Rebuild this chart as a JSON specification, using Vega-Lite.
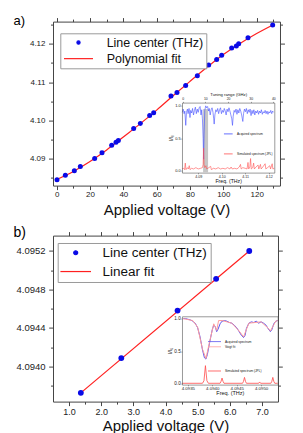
{
  "$schema": "https://vega.github.io/schema/vega-lite/v6.json",
  "background": "white",
  "padding": {"left": 12, "top": 13.6, "right": 5, "bottom": 0},
  "spacing": 6,
  "resolve": {"scale": {"shape": "independent", "color": "independent"}},
  "config": {
    "font": "Liberation Sans",
    "view": {"stroke": "#444", "strokeWidth": 1},
    "axis": {"grid": false, "labelColor": "#222", "titleColor": "#111", "tickColor": "#444", "domainColor": "#555", "labelFlush": false, "labelOverlap": false, "titleFontWeight": "normal"},
    "legend": {"labelColor": "#111"}
  },
  "datasets": {
    "ptsA": [
      {"V": 0.2, "f": 4.0845}, {"V": 5.2, "f": 4.0857}, {"V": 10.6, "f": 4.0869}, {"V": 14.2, "f": 4.0880},
      {"V": 22.8, "f": 4.0901}, {"V": 27.2, "f": 4.0916}, {"V": 33.0, "f": 4.0935}, {"V": 35.6, "f": 4.0943},
      {"V": 37.0, "f": 4.0948}, {"V": 46.2, "f": 4.0979}, {"V": 50.2, "f": 4.0992}, {"V": 55.8, "f": 4.1013},
      {"V": 58.2, "f": 4.1020}, {"V": 68.6, "f": 4.1064}, {"V": 72.2, "f": 4.1073}, {"V": 77.4, "f": 4.1091},
      {"V": 84.4, "f": 4.1117}, {"V": 91.2, "f": 4.1145}, {"V": 96.0, "f": 4.1159}, {"V": 99.0, "f": 4.1170},
      {"V": 105.0, "f": 4.1189}, {"V": 107.8, "f": 4.1194}, {"V": 109.2, "f": 4.1200}, {"V": 114.8, "f": 4.1216},
      {"V": 129.6, "f": 4.1249}
    ],
    "fitA": [
      {"V": 0, "f": 4.0846}, {"V": 10, "f": 4.0867}, {"V": 20, "f": 4.0893}, {"V": 30, "f": 4.0923},
      {"V": 40, "f": 4.0957}, {"V": 50, "f": 4.0991}, {"V": 60, "f": 4.1027}, {"V": 70, "f": 4.1065},
      {"V": 80, "f": 4.1102}, {"V": 90, "f": 4.1138}, {"V": 100, "f": 4.1172}, {"V": 110, "f": 4.1201},
      {"V": 120, "f": 4.1227}, {"V": 130, "f": 4.1250}
    ],
    "ptsB": [
      {"V": 1.366, "f": 4.093726}, {"V": 2.625, "f": 4.094087}, {"V": 4.375, "f": 4.094581},
      {"V": 5.575, "f": 4.094911}, {"V": 6.606, "f": 4.095200}
    ],
    "fitB": [
      {"V": 1.366, "f": 4.093726}, {"V": 6.606, "f": 4.095200}
    ],
    "bandA": [{"g0": 9.0, "g1": 11.2, "b0": -0.02, "b1": 0.95}],
    "acqA": [
      {"t": 4.0832, "i": 0.90}, {"t": 4.0836, "i": 0.95}, {"t": 4.0840, "i": 0.88}, {"t": 4.0843, "i": 0.92},
      {"t": 4.0847, "i": 0.70}, {"t": 4.0850, "i": 0.90}, {"t": 4.0854, "i": 0.95}, {"t": 4.0857, "i": 0.88},
      {"t": 4.0861, "i": 0.96}, {"t": 4.0865, "i": 0.82}, {"t": 4.0868, "i": 0.93}, {"t": 4.0872, "i": 0.89},
      {"t": 4.0876, "i": 0.96}, {"t": 4.0880, "i": 0.86}, {"t": 4.0884, "i": 0.93}, {"t": 4.0888, "i": 0.98},
      {"t": 4.0892, "i": 0.88}, {"t": 4.0896, "i": 0.95}, {"t": 4.0900, "i": 0.90}, {"t": 4.0904, "i": 0.97},
      {"t": 4.0908, "i": 0.99}, {"t": 4.0912, "i": 0.86}, {"t": 4.0915, "i": 0.94}, {"t": 4.0918, "i": 0.80},
      {"t": 4.0921, "i": 0.50}, {"t": 4.0923, "i": 0.18}, {"t": 4.0925, "i": 0.55}, {"t": 4.0928, "i": 0.93},
      {"t": 4.0932, "i": 1.00}, {"t": 4.0936, "i": 0.97}, {"t": 4.0940, "i": 0.99}, {"t": 4.0944, "i": 0.92},
      {"t": 4.0947, "i": 0.96}, {"t": 4.0951, "i": 0.86}, {"t": 4.0955, "i": 0.94}, {"t": 4.0959, "i": 0.97},
      {"t": 4.0963, "i": 0.90}, {"t": 4.0966, "i": 0.80}, {"t": 4.0968, "i": 0.72}, {"t": 4.0971, "i": 0.86},
      {"t": 4.0975, "i": 0.94}, {"t": 4.0979, "i": 0.91}, {"t": 4.0983, "i": 0.96}, {"t": 4.0987, "i": 0.88},
      {"t": 4.0991, "i": 0.94}, {"t": 4.0995, "i": 0.97}, {"t": 4.0999, "i": 0.88}, {"t": 4.1003, "i": 0.93},
      {"t": 4.1007, "i": 0.90}, {"t": 4.1011, "i": 0.96}, {"t": 4.1015, "i": 0.92}, {"t": 4.1019, "i": 0.86},
      {"t": 4.1023, "i": 0.95}, {"t": 4.1027, "i": 0.91}, {"t": 4.1031, "i": 0.97}, {"t": 4.1035, "i": 0.92},
      {"t": 4.1039, "i": 0.86}, {"t": 4.1043, "i": 0.80}, {"t": 4.1046, "i": 0.70}, {"t": 4.1049, "i": 0.84},
      {"t": 4.1053, "i": 0.93}, {"t": 4.1057, "i": 0.90}, {"t": 4.1061, "i": 0.95}, {"t": 4.1065, "i": 0.87},
      {"t": 4.1069, "i": 0.94}, {"t": 4.1073, "i": 0.89}, {"t": 4.1077, "i": 0.96}, {"t": 4.1081, "i": 0.92},
      {"t": 4.1085, "i": 0.86}, {"t": 4.1088, "i": 0.80}, {"t": 4.1090, "i": 0.76}, {"t": 4.1093, "i": 0.88},
      {"t": 4.1097, "i": 0.95}, {"t": 4.1101, "i": 0.91}, {"t": 4.1105, "i": 0.96}, {"t": 4.1109, "i": 0.88},
      {"t": 4.1113, "i": 0.94}, {"t": 4.1117, "i": 0.90}, {"t": 4.1121, "i": 0.95}, {"t": 4.1125, "i": 0.85},
      {"t": 4.1129, "i": 0.93}, {"t": 4.1133, "i": 0.88}, {"t": 4.1137, "i": 0.94}, {"t": 4.1141, "i": 0.86},
      {"t": 4.1145, "i": 0.92}, {"t": 4.1149, "i": 0.89}, {"t": 4.1153, "i": 0.93}, {"t": 4.1157, "i": 0.87},
      {"t": 4.1161, "i": 0.92}, {"t": 4.1165, "i": 0.89}, {"t": 4.1169, "i": 0.94}, {"t": 4.1173, "i": 0.87},
      {"t": 4.1177, "i": 0.91}, {"t": 4.1181, "i": 0.89}, {"t": 4.1185, "i": 0.93}, {"t": 4.1189, "i": 0.88},
      {"t": 4.1193, "i": 0.92}, {"t": 4.1197, "i": 0.87}, {"t": 4.1201, "i": 0.91}, {"t": 4.1205, "i": 0.89},
      {"t": 4.1209, "i": 0.93}, {"t": 4.1213, "i": 0.88}, {"t": 4.1217, "i": 0.92}, {"t": 4.1221, "i": 0.90}
    ],
    "simA": [
      {"t": 4.0831, "i": 0.03}, {"t": 4.0838, "i": 0.04}, {"t": 4.0842, "i": 0.02}, {"t": 4.0845, "i": 0.12},
      {"t": 4.0848, "i": 0.02}, {"t": 4.0854, "i": 0.05}, {"t": 4.0858, "i": 0.03}, {"t": 4.0862, "i": 0.08},
      {"t": 4.0865, "i": 0.02}, {"t": 4.0872, "i": 0.04}, {"t": 4.0880, "i": 0.03}, {"t": 4.0890, "i": 0.05},
      {"t": 4.0900, "i": 0.03}, {"t": 4.0910, "i": 0.04}, {"t": 4.0918, "i": 0.05}, {"t": 4.0921, "i": 0.10},
      {"t": 4.0923, "i": 0.35}, {"t": 4.0925, "i": 0.10}, {"t": 4.0928, "i": 0.05}, {"t": 4.0933, "i": 0.08},
      {"t": 4.0936, "i": 0.03}, {"t": 4.0945, "i": 0.05}, {"t": 4.0953, "i": 0.07}, {"t": 4.0956, "i": 0.02},
      {"t": 4.0965, "i": 0.04}, {"t": 4.0975, "i": 0.03}, {"t": 4.0985, "i": 0.05}, {"t": 4.0995, "i": 0.03},
      {"t": 4.1005, "i": 0.04}, {"t": 4.1015, "i": 0.03}, {"t": 4.1025, "i": 0.05}, {"t": 4.1035, "i": 0.03},
      {"t": 4.1040, "i": 0.06}, {"t": 4.1045, "i": 0.03}, {"t": 4.1055, "i": 0.04}, {"t": 4.1065, "i": 0.03},
      {"t": 4.1075, "i": 0.06}, {"t": 4.1080, "i": 0.10}, {"t": 4.1083, "i": 0.03}, {"t": 4.1090, "i": 0.05},
      {"t": 4.1100, "i": 0.04}, {"t": 4.1108, "i": 0.03}, {"t": 4.1112, "i": 0.13}, {"t": 4.1115, "i": 0.03},
      {"t": 4.1120, "i": 0.06}, {"t": 4.1123, "i": 0.19}, {"t": 4.1126, "i": 0.03}, {"t": 4.1132, "i": 0.05},
      {"t": 4.1136, "i": 0.12}, {"t": 4.1139, "i": 0.03}, {"t": 4.1146, "i": 0.06}, {"t": 4.1155, "i": 0.09},
      {"t": 4.1158, "i": 0.03}, {"t": 4.1165, "i": 0.10}, {"t": 4.1168, "i": 0.03}, {"t": 4.1175, "i": 0.06},
      {"t": 4.1185, "i": 0.11}, {"t": 4.1188, "i": 0.03}, {"t": 4.1195, "i": 0.05}, {"t": 4.1205, "i": 0.08},
      {"t": 4.1208, "i": 0.03}, {"t": 4.1215, "i": 0.11}, {"t": 4.1218, "i": 0.03}, {"t": 4.1224, "i": 0.04}
    ],
    "acqB": [
      {"t": 4.09340, "i": 1.00, "s": "Acquired spectrum"}, {"t": 4.09345, "i": 1.00, "s": "Acquired spectrum"},
      {"t": 4.09350, "i": 0.99, "s": "Acquired spectrum"}, {"t": 4.09355, "i": 0.98, "s": "Acquired spectrum"},
      {"t": 4.09360, "i": 0.96, "s": "Acquired spectrum"}, {"t": 4.09365, "i": 0.93, "s": "Acquired spectrum"},
      {"t": 4.09370, "i": 0.86, "s": "Acquired spectrum"}, {"t": 4.09375, "i": 0.72, "s": "Acquired spectrum"},
      {"t": 4.09380, "i": 0.52, "s": "Acquired spectrum"}, {"t": 4.09384, "i": 0.40, "s": "Acquired spectrum"},
      {"t": 4.09387, "i": 0.38, "s": "Acquired spectrum"}, {"t": 4.09390, "i": 0.45, "s": "Acquired spectrum"},
      {"t": 4.09395, "i": 0.65, "s": "Acquired spectrum"}, {"t": 4.09400, "i": 0.83, "s": "Acquired spectrum"},
      {"t": 4.09403, "i": 0.90, "s": "Acquired spectrum"}, {"t": 4.09406, "i": 0.88, "s": "Acquired spectrum"},
      {"t": 4.09409, "i": 0.80, "s": "Acquired spectrum"}, {"t": 4.09412, "i": 0.84, "s": "Acquired spectrum"},
      {"t": 4.09416, "i": 0.92, "s": "Acquired spectrum"}, {"t": 4.09420, "i": 0.96, "s": "Acquired spectrum"},
      {"t": 4.09425, "i": 0.97, "s": "Acquired spectrum"}, {"t": 4.09430, "i": 0.96, "s": "Acquired spectrum"},
      {"t": 4.09435, "i": 0.94, "s": "Acquired spectrum"}, {"t": 4.09440, "i": 0.93, "s": "Acquired spectrum"},
      {"t": 4.09445, "i": 0.90, "s": "Acquired spectrum"}, {"t": 4.09450, "i": 0.86, "s": "Acquired spectrum"},
      {"t": 4.09455, "i": 0.80, "s": "Acquired spectrum"}, {"t": 4.09460, "i": 0.74, "s": "Acquired spectrum"},
      {"t": 4.09464, "i": 0.71, "s": "Acquired spectrum"}, {"t": 4.09467, "i": 0.74, "s": "Acquired spectrum"},
      {"t": 4.09470, "i": 0.85, "s": "Acquired spectrum"}, {"t": 4.09475, "i": 0.93, "s": "Acquired spectrum"},
      {"t": 4.09480, "i": 0.95, "s": "Acquired spectrum"}, {"t": 4.09485, "i": 0.94, "s": "Acquired spectrum"},
      {"t": 4.09490, "i": 0.96, "s": "Acquired spectrum"}, {"t": 4.09495, "i": 0.93, "s": "Acquired spectrum"},
      {"t": 4.09500, "i": 0.95, "s": "Acquired spectrum"}, {"t": 4.09505, "i": 0.93, "s": "Acquired spectrum"},
      {"t": 4.09510, "i": 0.90, "s": "Acquired spectrum"}, {"t": 4.09515, "i": 0.84, "s": "Acquired spectrum"},
      {"t": 4.09519, "i": 0.80, "s": "Acquired spectrum"}, {"t": 4.09522, "i": 0.83, "s": "Acquired spectrum"},
      {"t": 4.09526, "i": 0.92, "s": "Acquired spectrum"}, {"t": 4.09530, "i": 0.96, "s": "Acquired spectrum"},
      {"t": 4.09534, "i": 0.97, "s": "Acquired spectrum"},
      {"t": 4.09340, "i": 1.00, "s": "Voigt fit"}, {"t": 4.09360, "i": 0.97, "s": "Voigt fit"},
      {"t": 4.09370, "i": 0.87, "s": "Voigt fit"}, {"t": 4.09380, "i": 0.53, "s": "Voigt fit"},
      {"t": 4.09387, "i": 0.39, "s": "Voigt fit"}, {"t": 4.09395, "i": 0.66, "s": "Voigt fit"},
      {"t": 4.09403, "i": 0.92, "s": "Voigt fit"}, {"t": 4.09409, "i": 0.82, "s": "Voigt fit"},
      {"t": 4.09413, "i": 0.97, "s": "Voigt fit"}, {"t": 4.09420, "i": 0.97, "s": "Voigt fit"},
      {"t": 4.09440, "i": 0.93, "s": "Voigt fit"}, {"t": 4.09455, "i": 0.81, "s": "Voigt fit"},
      {"t": 4.09464, "i": 0.72, "s": "Voigt fit"}, {"t": 4.09475, "i": 0.93, "s": "Voigt fit"},
      {"t": 4.09500, "i": 0.95, "s": "Voigt fit"}, {"t": 4.09515, "i": 0.85, "s": "Voigt fit"},
      {"t": 4.09519, "i": 0.81, "s": "Voigt fit"}, {"t": 4.09530, "i": 0.96, "s": "Voigt fit"},
      {"t": 4.09534, "i": 0.97, "s": "Voigt fit"}
    ],
    "simB": [
      {"t": 4.09338, "i": 0.01}, {"t": 4.09380, "i": 0.01}, {"t": 4.09383, "i": 0.05}, {"t": 4.09386, "i": 0.28},
      {"t": 4.09389, "i": 0.05}, {"t": 4.09392, "i": 0.01}, {"t": 4.09416, "i": 0.01}, {"t": 4.09418, "i": 0.04},
      {"t": 4.09420, "i": 0.09}, {"t": 4.09422, "i": 0.04}, {"t": 4.09424, "i": 0.01}, {"t": 4.09462, "i": 0.01},
      {"t": 4.09464, "i": 0.04}, {"t": 4.09466, "i": 0.10}, {"t": 4.09468, "i": 0.04}, {"t": 4.09470, "i": 0.01},
      {"t": 4.09495, "i": 0.01}, {"t": 4.09497, "i": 0.03}, {"t": 4.09499, "i": 0.01}, {"t": 4.09520, "i": 0.01},
      {"t": 4.09522, "i": 0.04}, {"t": 4.09524, "i": 0.10}, {"t": 4.09526, "i": 0.04}, {"t": 4.09528, "i": 0.01},
      {"t": 4.09534, "i": 0.01}
    ]
  },
  "vconcat": [
    {
      "width": 227,
      "height": 164,
      "layer": [
        {
          "layer": [
            {
              "data": {"name": "fitA"},
              "mark": {"type": "line", "strokeWidth": 1.2, "interpolate": "monotone"},
              "encoding": {
                "x": {"field": "V", "type": "quantitative",
                  "scale": {"domain": [-2.2, 134], "nice": false, "zero": false},
                  "axis": {"orient": "bottom", "domain": false, "values": [0, 10, 20, 30, 40, 50, 60, 70, 80, 90, 100, 110, 120, 130],
                    "labelExpr": "datum.value % 20 == 0 ? datum.label : ''",
                    "tickSize": {"condition": {"test": "datum.value % 20 == 0", "value": 4}, "value": 2.5},
                    "labelFontSize": 8, "labelPadding": 1, "title": "Applied voltage (V)", "titleFontSize": 15, "titlePadding": 4}},
                "y": {"field": "f", "type": "quantitative",
                  "scale": {"domain": [4.083, 4.1258], "nice": false, "zero": false},
                  "axis": {"orient": "left", "domain": false, "values": [4.085, 4.09, 4.095, 4.1, 4.105, 4.11, 4.115, 4.12, 4.125],
                    "format": ".2f",
                    "labelExpr": "abs(datum.value*100 - round(datum.value*100)) < 0.01 ? datum.label : ''",
                    "tickSize": {"condition": {"test": "abs(datum.value*100 - round(datum.value*100)) < 0.01", "value": 4.5}, "value": 2.5},
                    "labelFontSize": 8, "labelPadding": 3.5,
                    "title": "a)", "titleAngle": 0, "titleX": -40, "titleY": 3, "titleAlign": "left", "titleBaseline": "alphabetic", "titleFontSize": 13, "titleColor": "#000"}},
                "color": {"datum": "Polynomial fit", "type": "nominal",
                  "scale": {"domain": ["Line center (THz)", "Polynomial fit"], "range": ["#0a0ae6", "#ff2020"]},
                  "legend": {"orient": "none", "legendX": 7.3, "legendY": 11.7, "title": null, "strokeColor": "#9a9a9a", "fillColor": "white", "padding": 3,
                    "labelFontSize": 12.5, "labelLimit": 300, "symbolOffset": 8.95, "labelOffset": 21.9, "rowPadding": 3.1, "symbolSize": 10, "symbolStrokeWidth": 1.2, "symbolOpacity": 1}}
              }
            },
            {
              "data": {"name": "ptsA"},
              "mark": {"type": "point", "filled": true, "size": 25, "opacity": 1, "strokeWidth": 0},
              "encoding": {
                "x": {"field": "V", "type": "quantitative",
                  "scale": {"domain": [-2.2, 134], "nice": false, "zero": false},
                  "axis": {"orient": "top", "domain": false, "labels": false, "title": null, "values": [0, 10, 20, 30, 40, 50, 60, 70, 80, 90, 100, 110, 120, 130],
                    "tickSize": {"condition": {"test": "datum.value % 20 == 0", "value": 4}, "value": 2.5}}},
                "y": {"field": "f", "type": "quantitative",
                  "scale": {"domain": [4.083, 4.1258], "nice": false, "zero": false},
                  "axis": {"orient": "right", "domain": false, "labels": false, "title": null, "values": [4.085, 4.09, 4.095, 4.1, 4.105, 4.11, 4.115, 4.12, 4.125],
                    "tickSize": {"condition": {"test": "abs(datum.value*100 - round(datum.value*100)) < 0.01", "value": 4.5}, "value": 2.5}}},
                "color": {"datum": "Line center (THz)", "type": "nominal",
                  "scale": {"domain": ["Line center (THz)", "Polynomial fit"], "range": ["#0a0ae6", "#ff2020"]}},
                "shape": {"datum": "Line center (THz)", "type": "nominal",
                  "scale": {"domain": ["Line center (THz)", "Polynomial fit"], "range": ["circle", "M-9.17,0H9.17"]},
                  "legend": {"orient": "none", "legendX": 7.3, "legendY": 11.7, "title": null}}
              }
            }
          ],
          "resolve": {"axis": {"x": "independent", "y": "independent"}}
        },
        {
          "data": {"name": "bandA"},
          "mark": {"type": "rect", "color": "#c0c0c0", "opacity": 0.9},
          "encoding": {
            "x": {"field": "g0", "type": "quantitative",
              "scale": {"domain": [-0.31, 40.44], "range": [129, 221.3], "nice": false, "zero": false},
              "axis": {"orient": "top", "offset": -81, "values": [0, 10, 20, 30, 40], "zindex": 1, "domainWidth": 0.6, "tickSize": 1.2, "tickWidth": 0.5,
                "labelFontSize": 3.4, "labelPadding": 0.4, "title": "Tuning range (GHz)", "titleFontSize": 4.2, "titlePadding": 0.6}},
            "x2": {"field": "g1"},
            "y": {"field": "b0", "type": "quantitative",
              "scale": {"domain": [-0.026, 1.05], "range": [151, 81], "nice": false, "zero": false}, "axis": null},
            "y2": {"field": "b1"}
          }
        },
        {
          "data": {"name": "acqA"},
          "mark": {"type": "line", "strokeWidth": 0.6},
          "encoding": {
            "x": {"field": "t", "type": "quantitative",
              "scale": {"domain": [4.0831, 4.1224], "range": [129, 221.3], "nice": false, "zero": false},
              "axis": {"orient": "bottom", "offset": -13, "values": [4.09, 4.1, 4.11, 4.12], "format": ".2f", "zindex": 1, "domainWidth": 0.6, "tickSize": 1.2, "tickWidth": 0.5,
                "labelFontSize": 3.6, "labelPadding": 0.6, "title": "Freq. (THz)", "titleFontSize": 5.2, "titlePadding": 0.4}},
            "y": {"field": "i", "type": "quantitative",
              "scale": {"domain": [-0.026, 1.05], "range": [151, 81], "nice": false, "zero": false},
              "axis": {"orient": "left", "offset": -129, "values": [0, 0.5, 1], "format": ".1f", "zindex": 1, "domainWidth": 0.6, "tickSize": 1.2, "tickWidth": 0.5,
                "labelFontSize": 4, "labelPadding": 0.6, "title": "I/I₀", "titleFontSize": 5, "titlePadding": 1}},
            "color": {"datum": "Acquired spectrum", "type": "nominal",
              "scale": {"domain": ["Acquired spectrum"], "range": ["#3f4bff"]},
              "legend": {"orient": "none", "legendX": 170, "legendY": 110.75, "title": null, "padding": 0, "labelFontSize": 3.1,
                "symbolType": "M-8.7,0H8.7", "symbolSize": 1, "symbolStrokeWidth": 0.8, "symbolOffset": 3.75, "labelOffset": 7.2, "rowPadding": 0.2}}
          }
        },
        {
          "data": {"name": "simA"},
          "mark": {"type": "line", "strokeWidth": 0.6},
          "encoding": {
            "x": {"field": "t", "type": "quantitative",
              "scale": {"domain": [4.0831, 4.1224], "range": [129, 221.3], "nice": false, "zero": false}, "axis": null},
            "y": {"field": "i", "type": "quantitative",
              "scale": {"domain": [-0.026, 1.05], "range": [151, 81], "nice": false, "zero": false},
              "axis": {"orient": "right", "offset": -5.7, "labels": false, "ticks": false, "title": null, "zindex": 1, "domainWidth": 0.6, "values": [0]}},
            "color": {"datum": "Simulated spectrum (JPL)", "type": "nominal",
              "scale": {"domain": ["Simulated spectrum (JPL)"], "range": ["#ff5050"]},
              "legend": {"orient": "none", "legendX": 170, "legendY": 130.75, "title": null, "padding": 0, "labelFontSize": 3.1,
                "symbolType": "M-8.7,0H8.7", "symbolSize": 1, "symbolStrokeWidth": 0.8, "symbolOffset": 3.75, "labelOffset": 7.2}}
          }
        }
      ],
      "resolve": {"scale": {"x": "independent", "y": "independent", "color": "independent", "shape": "independent"}}
    },
    {
      "width": 225,
      "height": 166,
      "layer": [
        {
          "layer": [
            {
              "data": {"name": "fitB"},
              "mark": {"type": "line", "strokeWidth": 1.2},
              "encoding": {
                "x": {"field": "V", "type": "quantitative",
                  "scale": {"domain": [0.5, 7.5], "nice": false, "zero": false},
                  "axis": {"orient": "bottom", "domain": false, "values": [1, 1.5, 2, 2.5, 3, 3.5, 4, 4.5, 5, 5.5, 6, 6.5, 7],
                    "labelExpr": "datum.value % 1 == 0 ? datum.label : ''",
                    "tickSize": {"condition": {"test": "datum.value % 1 == 0", "value": 4}, "value": 2.5},
                    "labelFontSize": 9, "labelPadding": 2, "title": "Applied voltage (V)", "titleFontSize": 15, "titlePadding": 1.5}},
                "y": {"field": "f", "type": "quantitative",
                  "scale": {"domain": [4.093635, 4.09536], "nice": false, "zero": false},
                  "axis": {"orient": "left", "domain": false, "values": [4.0938, 4.094, 4.0942, 4.0944, 4.0946, 4.0948, 4.095, 4.0952],
                    "format": ".4f",
                    "labelExpr": "abs(datum.value*2500 - round(datum.value*2500)) < 0.01 ? datum.label : ''",
                    "tickSize": {"condition": {"test": "abs(datum.value*2500 - round(datum.value*2500)) < 0.01", "value": 4.3}, "value": 2.5},
                    "labelFontSize": 9.5, "labelPadding": 3.7,
                    "title": "b)", "titleAngle": 0, "titleX": -40, "titleY": 0.7, "titleAlign": "left", "titleBaseline": "alphabetic", "titleFontSize": 14, "titleColor": "#000"}},
                "color": {"datum": "Linear fit", "type": "nominal",
                  "scale": {"domain": ["Line center (THz)", "Linear fit"], "range": ["#0a0ae6", "#ff2020"]},
                  "legend": {"orient": "none", "legendX": 4.7, "legendY": 7.4, "title": null, "strokeColor": "#9a9a9a", "fillColor": "white", "padding": 3,
                    "labelFontSize": 13.5, "labelLimit": 300, "symbolOffset": 8.25, "labelOffset": 20.1, "rowPadding": 3.8, "symbolSize": 16, "symbolStrokeWidth": 1.2, "symbolOpacity": 1}}
              }
            },
            {
              "data": {"name": "ptsB"},
              "mark": {"type": "point", "filled": true, "size": 34, "opacity": 1, "strokeWidth": 0},
              "encoding": {
                "x": {"field": "V", "type": "quantitative",
                  "scale": {"domain": [0.5, 7.5], "nice": false, "zero": false},
                  "axis": {"orient": "top", "domain": false, "labels": false, "title": null, "values": [1, 1.5, 2, 2.5, 3, 3.5, 4, 4.5, 5, 5.5, 6, 6.5, 7],
                    "tickSize": {"condition": {"test": "datum.value % 1 == 0", "value": 4}, "value": 2.5}}},
                "y": {"field": "f", "type": "quantitative",
                  "scale": {"domain": [4.093635, 4.09536], "nice": false, "zero": false},
                  "axis": {"orient": "right", "domain": false, "labels": false, "title": null, "values": [4.0938, 4.094, 4.0942, 4.0944, 4.0946, 4.0948, 4.095, 4.0952],
                    "tickSize": {"condition": {"test": "abs(datum.value*2500 - round(datum.value*2500)) < 0.01", "value": 4.3}, "value": 2.5}}},
                "color": {"datum": "Line center (THz)", "type": "nominal",
                  "scale": {"domain": ["Line center (THz)", "Linear fit"], "range": ["#0a0ae6", "#ff2020"]}},
                "shape": {"datum": "Line center (THz)", "type": "nominal",
                  "scale": {"domain": ["Line center (THz)", "Linear fit"], "range": ["circle", "M-7.65,0H7.65"]},
                  "legend": {"orient": "none", "legendX": 4.7, "legendY": 7.4, "title": null}}
              }
            }
          ],
          "resolve": {"axis": {"x": "independent", "y": "independent"}}
        },
        {
          "data": {"name": "acqB"},
          "mark": {"type": "line", "strokeWidth": 1},
          "encoding": {
            "x": {"field": "t", "type": "quantitative",
              "scale": {"domain": [4.09338, 4.09534], "range": [129, 224.7], "nice": false, "zero": false},
              "axis": {"orient": "bottom", "offset": -17, "values": [4.0935, 4.094, 4.0945, 4.095], "format": ".4f", "zindex": 1, "domainWidth": 0.6, "tickSize": 1.2, "tickWidth": 0.5,
                "labelFontSize": 4.4, "labelPadding": 0.8, "title": "Freq. (THz)", "titleFontSize": 5.5, "titlePadding": 1}},
            "y": {"field": "i", "type": "quantitative",
              "scale": {"domain": [-0.01, 1.035], "range": [149, 80.7], "nice": false, "zero": false},
              "axis": {"orient": "left", "offset": -129, "values": [0, 0.5, 1], "format": ".1f", "zindex": 1, "domainWidth": 0.6, "tickSize": 1.2, "tickWidth": 0.5,
                "labelFontSize": 4.6, "labelPadding": 0.6, "title": "I/I₀", "titleFontSize": 5.2, "titlePadding": 1.5}},
            "color": {"field": "s", "type": "nominal",
              "scale": {"domain": ["Acquired spectrum", "Voigt fit"], "range": ["#5a55ee", "#ff9c9c"]},
              "legend": {"orient": "none", "legendX": 157, "legendY": 104.4, "title": null, "padding": 0, "labelFontSize": 3.2,
                "symbolType": "M-13,0H13", "symbolSize": 1, "symbolStrokeWidth": 0.8, "symbolOffset": 2.9, "labelOffset": 8.8, "rowPadding": 0.2}}
          }
        },
        {
          "data": {"name": "simB"},
          "mark": {"type": "line", "strokeWidth": 0.8},
          "encoding": {
            "x": {"field": "t", "type": "quantitative",
              "scale": {"domain": [4.09338, 4.09534], "range": [129, 224.7], "nice": false, "zero": false},
              "axis": {"orient": "top", "offset": -80.7, "labels": false, "ticks": false, "title": null, "zindex": 1, "domainWidth": 0.6, "values": [4.094]}},
            "y": {"field": "i", "type": "quantitative",
              "scale": {"domain": [-0.01, 1.035], "range": [149, 80.7], "nice": false, "zero": false},
              "axis": {"orient": "right", "offset": -0.3, "labels": false, "ticks": false, "title": null, "zindex": 1, "domainWidth": 0.6, "values": [0]}},
            "color": {"datum": "Simulated spectrum (JPL)", "type": "nominal",
              "scale": {"domain": ["Simulated spectrum (JPL)"], "range": ["#ff4a4a"]},
              "legend": {"orient": "none", "legendX": 157, "legendY": 133.8, "title": null, "padding": 0, "labelFontSize": 3.2,
                "symbolType": "M-13,0H13", "symbolSize": 1, "symbolStrokeWidth": 0.8, "symbolOffset": 2.9, "labelOffset": 8.8}}
          }
        }
      ],
      "resolve": {"scale": {"x": "independent", "y": "independent", "color": "independent", "shape": "independent"}}
    }
  ]
}
